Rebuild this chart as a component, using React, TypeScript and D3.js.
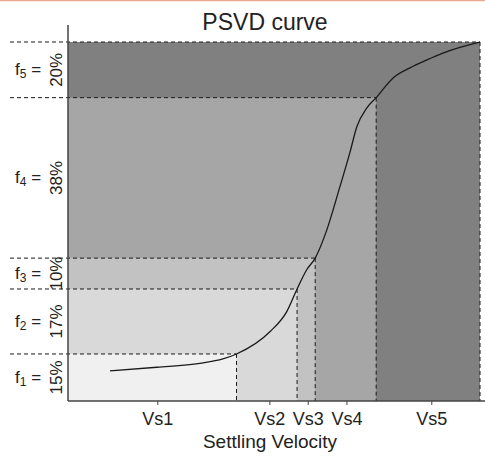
import React from "react";
import * as d3 from "d3";

// class boundaries (x = settling velocity, y = cumulative %)
const classNames = ["1", "2", "3", "4", "5"];
const fractions = ["15%", "17%", "10%", "38%", "20%"];
const xBreaks = [40.9, 55.6, 60.0, 74.8, 100];
const yBreaks = [13.1, 31.2, 39.8, 84.5, 100];
const fills = ["#f0f0f0", "#d9d9d9", "#c2c2c2", "#a6a6a6", "#808080"];

// tick labels on the velocity axis
const tickLabels = ["Vs1", "Vs2", "Vs3", "Vs4", "Vs5"];
const tickValues = [21.8, 49.0, 58.3, 67.7, 88.3];

// PSVD curve
const curveX = [10.2, 21.6, 32.0, 37.6, 40.9, 49.0, 53.1, 55.6, 57.9, 60.0, 62.8, 66.0, 68.4, 70.1, 72.5, 74.8, 78.9, 83.0, 87.1, 91.0, 95.1, 100];
const curveY = [8.4, 9.4, 10.5, 11.7, 13.1, 19.3, 24.9, 31.2, 36.5, 39.8, 47.6, 59.7, 69.1, 76.4, 81.6, 84.5, 90.0, 92.8, 95.0, 96.9, 98.5, 100];

const width = 485;
const height = 457;
const margin = { top: 42, right: 5, bottom: 56, left: 68 };
const font = "'Liberation Sans', Arial, sans-serif";

export default function App() {
  const x = d3.scaleLinear().domain([0, 100]).range([margin.left, 480]);
  const y = d3.scaleLinear().domain([0, 100]).range([height - margin.bottom, margin.top]);
  const y0 = y(0);

  const line = d3
    .line<number>()
    .x((d, i) => x(curveX[i]))
    .y(d => y(d))
    .curve(d3.curveMonotoneX);

  const dash = "4,3";

  return (
    <svg width={width} height={height} style={{ position: "absolute", left: 0, top: 0 }} fontFamily={font}>
      <rect x={0} y={0} width={width} height={height} fill="#fff" />
      <line x1={0} x2={width} y1={0.5} y2={0.5} stroke="#eaa88c" strokeWidth={1.5} />

      {/* nested class areas, largest first */}
      {d3.reverse(xBreaks.map((xb, i) => i)).map(i => (
        <rect
          key={"r" + i}
          x={x(0)}
          y={y(yBreaks[i])}
          width={x(xBreaks[i]) - x(0)}
          height={y0 - y(yBreaks[i])}
          fill={fills[i]}
        />
      ))}

      {/* dashed guides */}
      {xBreaks.map((xb, i) => (
        <g key={"d" + i} stroke="#1a1a1a" strokeWidth={1} strokeDasharray={dash} fill="none">
          <line x1={10} x2={x(xb)} y1={y(yBreaks[i])} y2={y(yBreaks[i])} />
          <line x1={x(xb)} x2={x(xb)} y1={y(yBreaks[i])} y2={y0} />
        </g>
      ))}

      <path d={line(curveY) || ""} fill="none" stroke="#1a1a1a" strokeWidth={1.3} />

      {/* axes */}
      <line x1={x(0)} x2={x(0)} y1={25} y2={y0} stroke="#444" strokeWidth={1.5} />
      <line x1={x(0)} x2={width} y1={y0} y2={y0} stroke="#444" strokeWidth={1.5} />
      {tickValues.map((t, i) => (
        <g key={"t" + i} transform={`translate(${x(t)},${y0})`}>
          <line y1={0} y2={4} stroke="#444" strokeWidth={1} />
          <text y={24} textAnchor="middle" fontSize={18} fill="#222">
            {tickLabels[i]}
          </text>
        </g>
      ))}
      <text x={270} y={448} textAnchor="middle" fontSize={19} fill="#222">
        Settling Velocity
      </text>
      <text x={265} y={30} textAnchor="middle" fontSize={23} fill="#222">
        PSVD curve
      </text>

      {/* class labels */}
      {classNames.map((c, i) => {
        const lo = i === 0 ? 0 : yBreaks[i - 1];
        const cy = (y(lo) + y(yBreaks[i])) / 2;
        return (
          <g key={"l" + i} fill="#222" fontSize={17}>
            <text x={15} y={cy + 5.5}>
              f<tspan fontSize={12} dy={3}>{c}</tspan>
              <tspan dy={-3}> =</tspan>
            </text>
            <text transform={`translate(62,${cy}) rotate(-90)`} textAnchor="middle">
              {fractions[i]}
            </text>
          </g>
        );
      })}
    </svg>
  );
}
